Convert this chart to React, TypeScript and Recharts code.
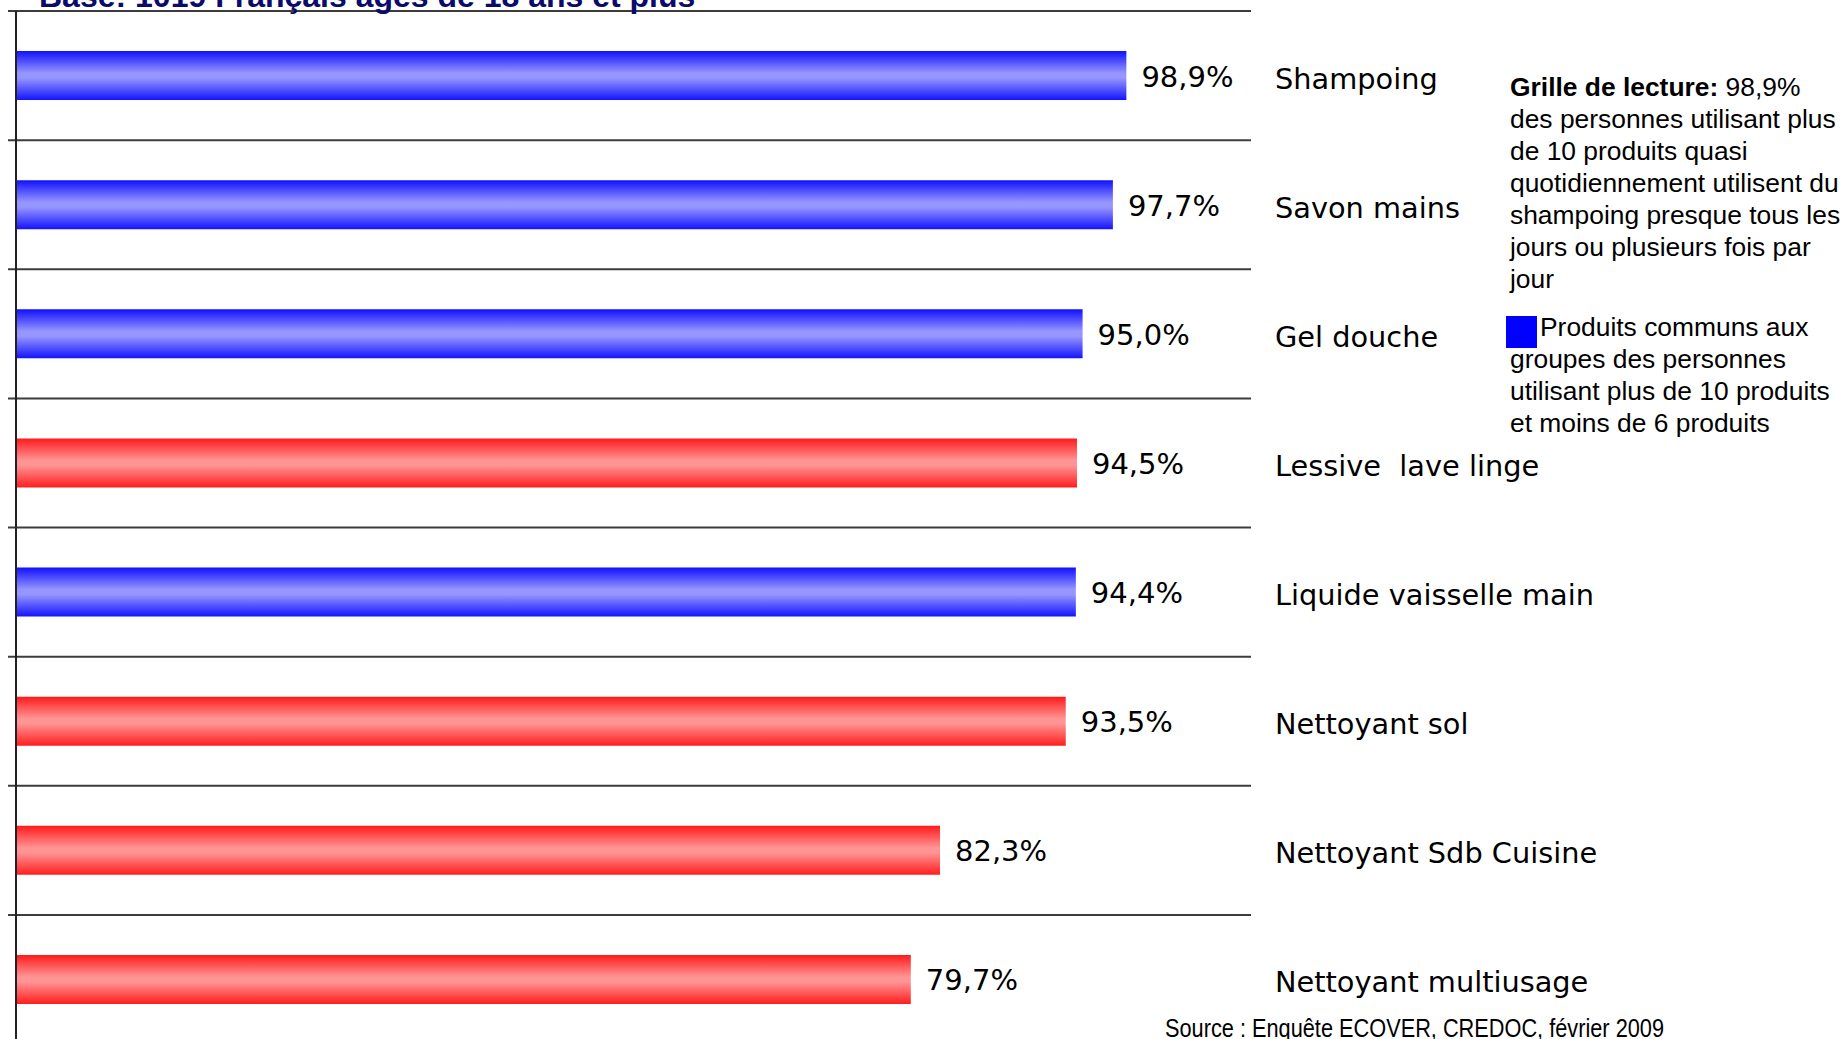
import React from 'react';
import { BarChart, Bar, XAxis, YAxis, CartesianGrid, Cell, LabelList, ReferenceLine } from 'recharts';

const categories = [
  'Shampoing',
  'Savon mains',
  'Gel douche',
  'Lessive  lave linge',
  'Liquide vaisselle main',
  'Nettoyant sol',
  'Nettoyant Sdb Cuisine',
  'Nettoyant multiusage',
];
const values = [98.9, 97.7, 95.0, 94.5, 94.4, 93.5, 82.3, 79.7];
const groups = ['common', 'common', 'common', 'other', 'common', 'other', 'other', 'other'];

const titleText = 'Base: 1019 Français âgés de 18 ans et plus';
const sourceText = 'Source : Enquête ECOVER, CREDOC, février 2009';
const noteLines = [
  'des personnes utilisant plus',
  'de 10 produits quasi',
  'quotidiennement utilisent du',
  'shampoing presque tous les',
  'jours ou plusieurs fois par',
  'jour',
];
const legendLines = [
  'Produits communs aux',
  'groupes des personnes',
  'utilisant plus de 10 produits',
  'et moins de 6 produits',
];

const data = categories.map((name, i) => ({ name, value: values[i], group: groups[i] }));

const W = 1845;
const H = 1039;
const CHART_H = 1060;
const LABEL_FONT = "'DejaVu Sans', Verdana, sans-serif";
const ARIAL = "'Liberation Sans', Arial, sans-serif";

const fmt = (v: number) => v.toFixed(1).replace('.', ',') + '%';

const CategoryTick = (props: any) => {
  const { x, y, payload } = props;
  return (
    <text
      x={x + 24}
      y={y + 13}
      textAnchor="start"
      fontFamily={LABEL_FONT}
      fontSize={28.8}
      fill="#000"
      style={{ whiteSpace: 'pre' }}
    >
      {payload.value}
    </text>
  );
};

const ValueLabel = (props: any) => {
  const { x, y, width, height, value } = props;
  return (
    <text
      x={x + width + 15}
      y={y + height / 2 + 11}
      textAnchor="start"
      fontFamily={LABEL_FONT}
      fontSize={29}
      fill="#000"
    >
      {fmt(Number(value))}
    </text>
  );
};

const gridGenerator = (args: any) => {
  const o = args.offset;
  const n = categories.length;
  const out: number[] = [];
  for (let i = 0; i <= n; i++) out.push(o.top + (i * o.height) / n);
  return out;
};

const GridLine = (p: any) => (
  <line
    key={`g-${p.y1}`}
    x1={p.x1 - 8}
    y1={p.y1}
    x2={p.x2}
    y2={p.y2}
    stroke="#3c3c3c"
    strokeWidth={2}
  />
);

export default function App() {
  return (
    <div
      style={{
        position: 'absolute',
        left: 0,
        top: 0,
        width: W,
        height: H,
        overflow: 'hidden',
        background: '#fff',
      }}
    >
      <svg
        width={W}
        height={H}
        style={{ position: 'absolute', left: 0, top: 0, pointerEvents: 'none' }}
      >
        <defs>
          <linearGradient id="gradBlue" x1="0" y1="0" x2="0" y2="1">
            <stop offset="0%" stopColor="#1010ff" />
            <stop offset="45%" stopColor="#9696ff" />
            <stop offset="55%" stopColor="#9696ff" />
            <stop offset="100%" stopColor="#1414ff" />
          </linearGradient>
          <linearGradient id="gradRed" x1="0" y1="0" x2="0" y2="1">
            <stop offset="0%" stopColor="#ff1a1a" />
            <stop offset="45%" stopColor="#ff9494" />
            <stop offset="55%" stopColor="#ff9494" />
            <stop offset="100%" stopColor="#ff1e1e" />
          </linearGradient>
        </defs>
      </svg>
      <div style={{ position: 'absolute', left: 0, top: 0 }}>
        <BarChart
          width={W}
          height={CHART_H}
          data={data}
          layout="vertical"
          margin={{ top: 11, right: 294, bottom: 16, left: 16 }}
        >
          <CartesianGrid
            vertical={false}
            horizontal={GridLine as any}
            horizontalCoordinatesGenerator={gridGenerator as any}
          />
          <XAxis type="number" domain={[0, 110]} hide />
          <YAxis
            type="category"
            dataKey="name"
            orientation="right"
            width={300}
            axisLine={false}
            tickLine={false}
            tickSize={0}
            tickMargin={0}
            interval={0}
            tick={<CategoryTick />}
          />
          <ReferenceLine x={0} stroke="#222" strokeWidth={2} />
          <Bar dataKey="value" barSize={49} isAnimationActive={false}>
            {data.map((d, i) => (
              <Cell key={i} fill={d.group === 'common' ? 'url(#gradBlue)' : 'url(#gradRed)'} />
            ))}
            <LabelList dataKey="value" content={<ValueLabel />} />
          </Bar>
        </BarChart>
      </div>
      <svg
        width={W}
        height={H}
        style={{ position: 'absolute', left: 0, top: 0, pointerEvents: 'none' }}
      >
        <text x={39} y={7} fontFamily={ARIAL} fontWeight="bold" fontSize={32} fill="#0b0b6b">
          {titleText}
        </text>
        <text x={1510} y={96} fontFamily={ARIAL} fontSize={26.4} fill="#000">
          <tspan fontWeight="bold">Grille de lecture:</tspan>
          <tspan> 98,9%</tspan>
        </text>
        {noteLines.map((line, i) => (
          <text key={i} x={1510} y={128 + i * 32} fontFamily={ARIAL} fontSize={26.4} fill="#000">
            {line}
          </text>
        ))}
        <rect x={1506} y={316} width={31} height={32} fill="#0000ff" />
        {legendLines.map((line, i) => (
          <text
            key={i}
            x={i === 0 ? 1540 : 1510}
            y={336 + i * 32}
            fontFamily={ARIAL}
            fontSize={26.4}
            fill="#000"
          >
            {line}
          </text>
        ))}
        <text
          x={1165}
          y={1037}
          fontFamily="'Liberation Sans Narrow', 'Liberation Sans', Arial, sans-serif"
          fontSize={25}
          fill="#000"
          textLength={499}
          lengthAdjust="spacingAndGlyphs"
        >
          {sourceText}
        </text>
      </svg>
    </div>
  );
}
